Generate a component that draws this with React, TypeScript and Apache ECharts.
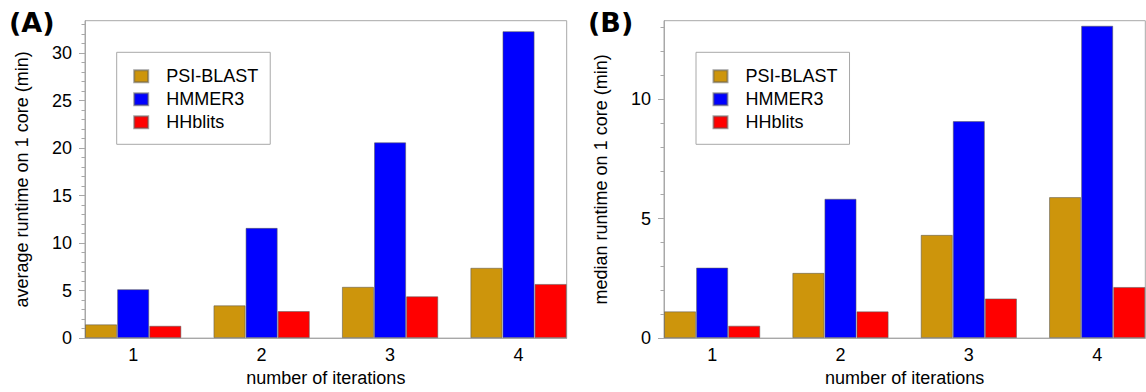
import React, { useEffect, useRef } from "react";
import * as echarts from "echarts";

const categories = ["1", "2", "3", "4"];
const seriesNames = ["PSI-BLAST", "HMMER3", "HHblits"];
const colors = ["#CD950C", "#0000FF", "#FF0000"];

// Panel A: average runtime on 1 core (min)
const psiA = [1.45, 3.45, 5.4, 7.4];
const hmmerA = [5.15, 11.6, 20.6, 32.3];
const hhA = [1.3, 2.85, 4.4, 5.7];

// Panel B: median runtime on 1 core (min)
const psiB = [1.12, 2.73, 4.32, 5.9];
const hmmerB = [2.95, 5.83, 9.08, 13.07];
const hhB = [0.52, 1.12, 1.66, 2.14];

const majorTicksA = [0, 5, 10, 15, 20, 25, 30];
const majorTicksB = [0, 5, 10];
const maxA = 33.4;
const maxB = 13.28;

const FONT = "Liberation Sans";
const GREY = "#a8a8a8";

export default function App() {
  const ref = useRef<HTMLDivElement>(null);
  useEffect(() => {
    if (!ref.current) return;
    const chart = echarts.init(ref.current, null, { renderer: "svg" });

    const catPos = categories.map((_, i) => i + 1);
    const minorA = Array.from({ length: Math.floor(maxA) + 1 }, (_, i) => i);
    const minorB = Array.from({ length: Math.floor(maxB) + 1 }, (_, i) => i);

    const grids = [
      { left: 85, top: 20.7, width: 481.7, height: 319.6 },
      { left: 664, top: 20.7, width: 481.3, height: 319.6 },
    ];

    const xAxes = [0, 1].map((g) => ({
      type: "value" as const,
      gridIndex: g,
      min: 0.625,
      max: 4.375,
      splitLine: { show: false },
      axisLine: { show: true, lineStyle: { color: GREY, width: 1 } },
      axisTick: { show: false },
      axisLabel: {
        customValues: catPos,
        formatter: (v: number) => categories[Math.round(v) - 1],
        fontSize: 18,
        color: "#000",
        margin: 8,
        fontFamily: FONT,
      },
      name: "number of iterations",
      nameLocation: "middle" as const,
      nameGap: 30,
      nameTextStyle: { fontSize: 18, color: "#000", fontFamily: FONT },
    }));

    const mkY = (g: number, max: number, majors: number[], minors: number[], name: string) => [
      {
        type: "value" as const,
        gridIndex: g,
        min: 0,
        max,
        splitLine: { show: false },
        axisLine: { show: true, lineStyle: { color: GREY, width: 1 } },
        axisTick: {
          show: true,
          inside: false,
          length: 6,
          customValues: majors,
          lineStyle: { color: GREY },
        },
        axisLabel: {
          customValues: majors,
          fontSize: 18,
          color: "#000",
          margin: 13,
          fontFamily: FONT,
        },
        name,
        nameLocation: "middle" as const,
        nameGap: 54,
        nameTextStyle: { fontSize: 18, color: "#000", fontFamily: FONT },
      },
      {
        type: "value" as const,
        gridIndex: g,
        position: "left" as const,
        min: 0,
        max,
        splitLine: { show: false },
        axisLine: { show: false },
        axisTick: {
          show: true,
          inside: false,
          length: 3.5,
          customValues: minors,
          lineStyle: { color: GREY },
        },
        axisLabel: { show: false },
      },
    ];

    const yAxes = [
      ...mkY(0, maxA, majorTicksA, minorA, "average runtime on 1 core (min)"),
      ...mkY(1, maxB, majorTicksB, minorB, "median runtime on 1 core (min)"),
    ];

    const dataSets = [
      [psiA, hmmerA, hhA],
      [psiB, hmmerB, hhB],
    ];

    const series: any[] = [];
    dataSets.forEach((set, g) => {
      set.forEach((vals, k) => {
        series.push({
          type: "bar",
          name: seriesNames[k],
          xAxisIndex: g,
          yAxisIndex: g * 2,
          data: vals.map((v, i) => [catPos[i], v]),
          barWidth: "25%",
          barGap: "0%",
          itemStyle: {
            color: colors[k],
            borderColor: "rgba(90,90,90,0.55)",
            borderWidth: 1,
          },
        });
      });
    });

    const legendBase = {
      orient: "vertical" as const,
      top: 52.3,
      itemWidth: 14,
      itemHeight: 12,
      itemGap: 5,
      borderColor: GREY,
      borderWidth: 1,
      padding: [15, 12, 13, 16.5],
      icon: "rect",
      selectedMode: false,
      textStyle: {
        fontSize: 18,
        color: "#000",
        fontFamily: FONT,
        padding: [0, 0, 0, 13],
      },
      data: seriesNames,
    };

    chart.setOption({
      animation: false,
      backgroundColor: "#fff",
      textStyle: { fontFamily: FONT },
      grid: grids.map((g) => ({ ...g, show: true, borderColor: GREY, borderWidth: 1 })),
      xAxis: xAxes,
      yAxis: yAxes,
      legend: [
        { ...legendBase, left: 116.7 },
        { ...legendBase, left: 696 },
      ],
      series,
      graphic: [
        {
          type: "text",
          left: 9,
          top: 9,
          style: { text: "(A)", font: "bold 27px 'DejaVu Sans'", fill: "#000" },
        },
        {
          type: "text",
          left: 588,
          top: 9,
          style: { text: "(B)", font: "bold 27px 'DejaVu Sans'", fill: "#000" },
        },
      ],
    });

    return () => chart.dispose();
  }, []);

  return (
    <div
      ref={ref}
      style={{ position: "fixed", left: 0, top: 0, width: 1146, height: 392 }}
    />
  );
}
